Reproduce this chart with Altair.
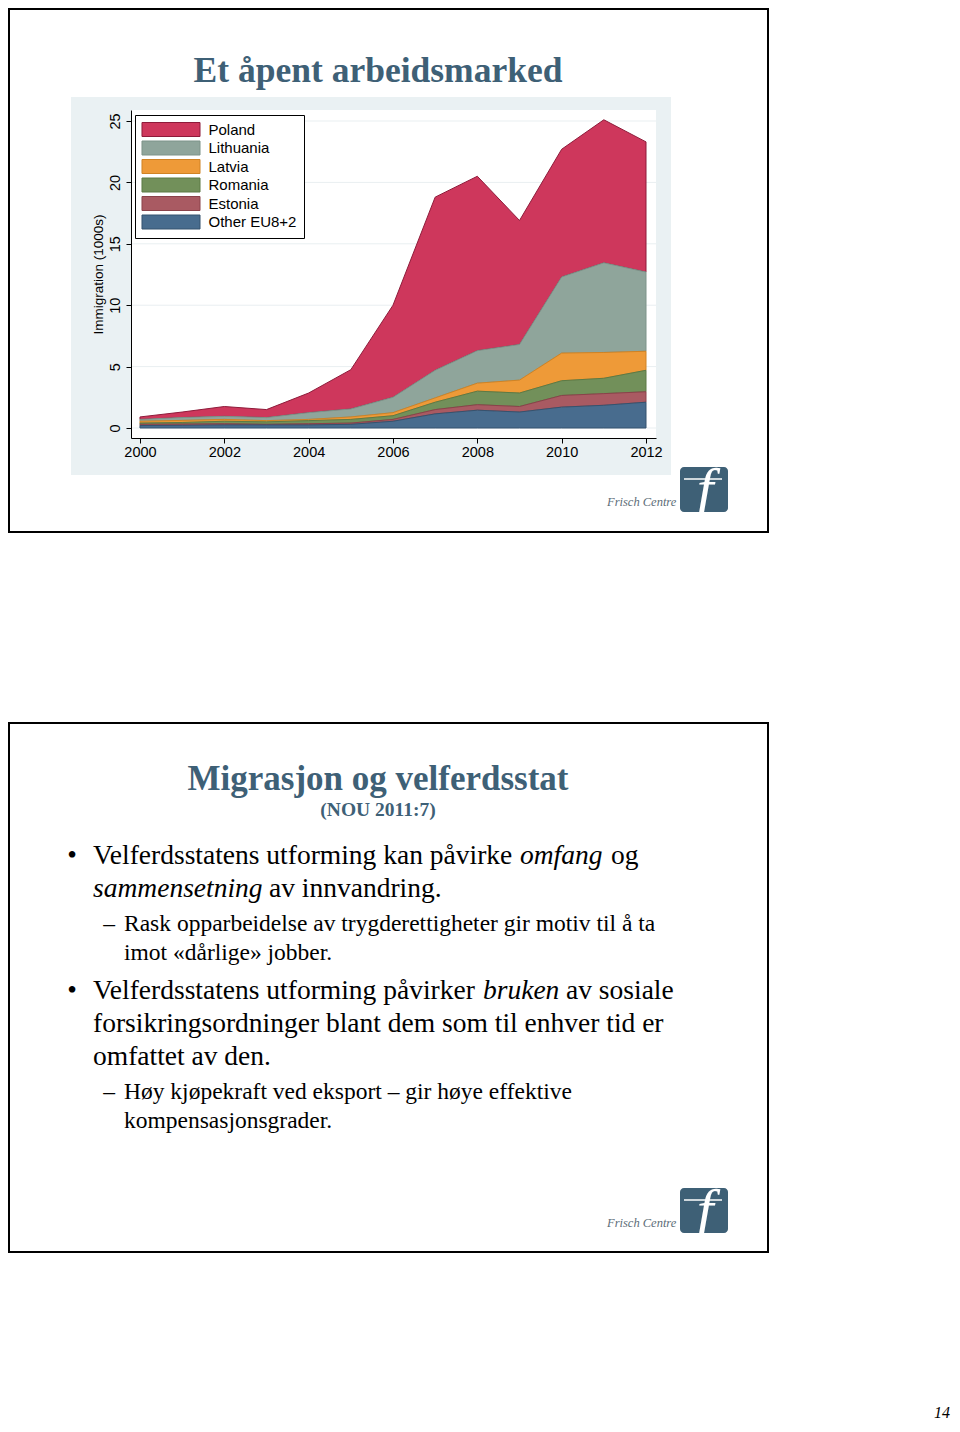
import altair as alt
import pandas as pd

# ---------------- data ----------------
years = [2000, 2001, 2002, 2003, 2004, 2005, 2006, 2007, 2008, 2009, 2010, 2011, 2012]
countries = ["Poland", "Lithuania", "Latvia", "Romania", "Estonia", "Other EU8+2"]
poland = [0.2, 0.45, 0.8, 0.65, 1.6, 3.2, 7.5, 14.1, 14.2, 10.1, 10.4, 11.65, 10.6]
lithuania = [0.15, 0.23, 0.25, 0.25, 0.55, 0.65, 1.25, 2.25, 2.65, 2.9, 6.2, 7.3, 6.45]
latvia = [0.15, 0.17, 0.15, 0.1, 0.1, 0.2, 0.25, 0.35, 0.65, 1.05, 2.25, 2.1, 1.55]
romania = [0.1, 0.13, 0.2, 0.2, 0.25, 0.3, 0.3, 0.6, 1.1, 1.1, 1.2, 1.25, 1.75]
estonia = [0.1, 0.1, 0.1, 0.05, 0.1, 0.1, 0.15, 0.35, 0.45, 0.45, 0.95, 0.95, 0.85]
other = [0.2, 0.22, 0.25, 0.25, 0.25, 0.3, 0.55, 1.15, 1.45, 1.3, 1.7, 1.85, 2.1]
x_ticks = [2000, 2002, 2004, 2006, 2008, 2010, 2012]
y_ticks = [0, 5, 10, 15, 20, 25]

fills = ["#CE375C", "#8FA59B", "#EE9A38", "#72905A", "#A95A62", "#486C8E"]
strokes = ["#8E1B3A", "#7D9389", "#D08324", "#5C7A45", "#8A424A", "#35536F"]

series = [poland, lithuania, latvia, romania, estonia, other]
rows = []
for i, (c, vals) in enumerate(zip(countries, series)):
    for yr, v in zip(years, vals):
        rows.append({"country": c, "year": yr, "value": v, "rank": len(countries) - 1 - i})
df = pd.DataFrame(rows)
one = pd.DataFrame({"k": [0]})

# ---------------- geometry ----------------
W, H = 525, 328
TITLE_C = "#3E6076"
SERIF = "Liberation Serif"
SANS = "Liberation Sans"

xscale = alt.Scale(domain=[1999.787, 2012.237], nice=False, zero=False)
yscale = alt.Scale(domain=[-0.814, 25.896], nice=False, zero=False)
yaxis = alt.Axis(values=y_ticks, title="Immigration (1000s)", grid=False,
                 labelAngle=270, labelAlign="center", labelBaseline="bottom",
                 tickSize=5, labelPadding=4, titlePadding=2, zindex=1)


def txt(s, x, y, size, color="black", font=SERIF, style="normal", weight="normal",
        align="left", baseline="alphabetic"):
    return alt.Chart(one).mark_text(
        text=s, fontSize=size, font=font, fontStyle=style, fontWeight=weight,
        color=color, align=align, baseline=baseline
    ).encode(x=alt.value(x), y=alt.value(y))


def box(x, x2, y, y2, **kw):
    return alt.Chart(one).mark_rect(**kw).encode(
        x=alt.value(x), x2=alt.value(x2), y=alt.value(y), y2=alt.value(y2))


def logo(x, y):
    # x, y = top-left of the logo square (plot coords)
    return [
        txt("Frisch Centre", x - 73, y + 39, 12.5, color="#5D6D78", style="italic"),
        box(x, x + 48, y, y + 45, fill="#3E6076", cornerRadius=4),
        alt.Chart(one).mark_rule(color="white", strokeWidth=1.5).encode(
            x=alt.value(x + 4), x2=alt.value(x + 42), y=alt.value(y + 12)),
        txt("f", x + 25, y + 24, 60, color="white", style="italic", align="center",
            baseline="middle"),
    ]


# ---------------- slide 1 ----------------
slide1 = box(-122, 637, -101, 422, fillOpacity=0, stroke="black", strokeWidth=2)
panel = box(-60, 540, -13, 365, fill="#EAF1F3")
plotbg = box(0, W, 0, H, fill="white")

grid = alt.Chart(pd.DataFrame({"value": y_ticks})).mark_rule(
    color="#E9EFF1", strokeWidth=1
).encode(
    y=alt.Y("value:Q", scale=yscale, axis=yaxis),
    x=alt.value(0), x2=alt.value(W),
)

leg = alt.Legend(orient="none", legendX=4, legendY=5)

areas = alt.Chart(df).mark_area(opacity=1, strokeWidth=1).encode(
    x=alt.X("year:Q", scale=xscale,
            axis=alt.Axis(values=x_ticks, format="d", title=None, grid=False,
                          labelFlush=False, tickSize=5, labelPadding=2, zindex=1)),
    y=alt.Y("value:Q", stack="zero", scale=yscale, axis=yaxis),
    fill=alt.Fill("country:N", scale=alt.Scale(domain=countries, range=fills),
                  legend=leg, title=None),
    stroke=alt.Stroke("country:N", scale=alt.Scale(domain=countries, range=strokes),
                      legend=leg, title=None),
    order=alt.Order("rank:Q", sort="ascending"),
)

title1 = txt("Et åpent arbeidsmarked", 247, -28, 35.5, color=TITLE_C, weight="bold",
             align="center")

# ---------------- slide 2 ----------------
slide2 = box(-122, 637, 613, 1142, fillOpacity=0, stroke="black", strokeWidth=2)
title2 = txt("Migrasjon og velferdsstat", 247, 680, 35, color=TITLE_C, weight="bold",
             align="center")
nou = txt("(NOU 2011:7)", 247, 706, 19.5, color=TITLE_C, weight="bold", align="center")

B = 27.5
S = 23.5
body = [
    txt("•", -59, 754, B, align="center"),
    txt("Velferdsstatens utforming kan påvirke", -38, 754, B),
    txt("omfang", 389, 754, B, style="italic"),
    txt("og", 480, 754, B),
    txt("sammensetning", -38, 787, B, style="italic"),
    txt("av innvandring.", 138, 787, B),
    txt("–", -22, 821, S, align="center"),
    txt("Rask opparbeidelse av trygderettigheter gir motiv til å ta", -7, 821, S),
    txt("imot «dårlige» jobber.", -7, 850, S),
    txt("•", -59, 889, B, align="center"),
    txt("Velferdsstatens utforming påvirker", -38, 889, B),
    txt("bruken", 352, 889, B, style="italic"),
    txt("av sosiale", 435, 889, B),
    txt("forsikringsordninger blant dem som til enhver tid er", -38, 922, B),
    txt("omfattet av den.", -38, 955, B),
    txt("–", -22, 989, S, align="center"),
    txt("Høy kjøpekraft ved eksport – gir høye effektive", -7, 989, S),
    txt("kompensasjonsgrader.", -7, 1018, S),
]

pagenum = txt("14", 819, 1308, 16, style="italic", align="right")

layers = [slide1, panel, plotbg, grid, areas, title1] + logo(549, 357) + \
         [slide2, title2, nou] + body + logo(549, 1078) + [pagenum]

chart = alt.layer(*layers).properties(
    width=W, height=H,
    autosize=alt.AutoSizeParams(type="none"),
    padding={"left": 123, "top": 102, "right": 296, "bottom": 982},
    background="white",
).configure_view(
    strokeWidth=0
).configure_axis(
    labelFont=SANS, labelFontSize=14.5, labelColor="black",
    titleFont=SANS, titleFontSize=13.5, titleFontWeight="normal", titleColor="black",
    domainColor="black", tickColor="black", domainWidth=1, tickWidth=1,
).configure_legend(
    fillColor="white", strokeColor="black", padding=7,
    symbolType="M-4.143,-1H4.143V1H-4.143Z", symbolSize=196, symbolStrokeWidth=1,
    symbolOffset=21.5, labelOffset=30, labelFont=SANS, labelFontSize=15,
    labelColor="black", rowPadding=-0.5, symbolOpacity=1,
)

chart.save("out.html", embed_options={"renderer": "svg", "actions": False})
